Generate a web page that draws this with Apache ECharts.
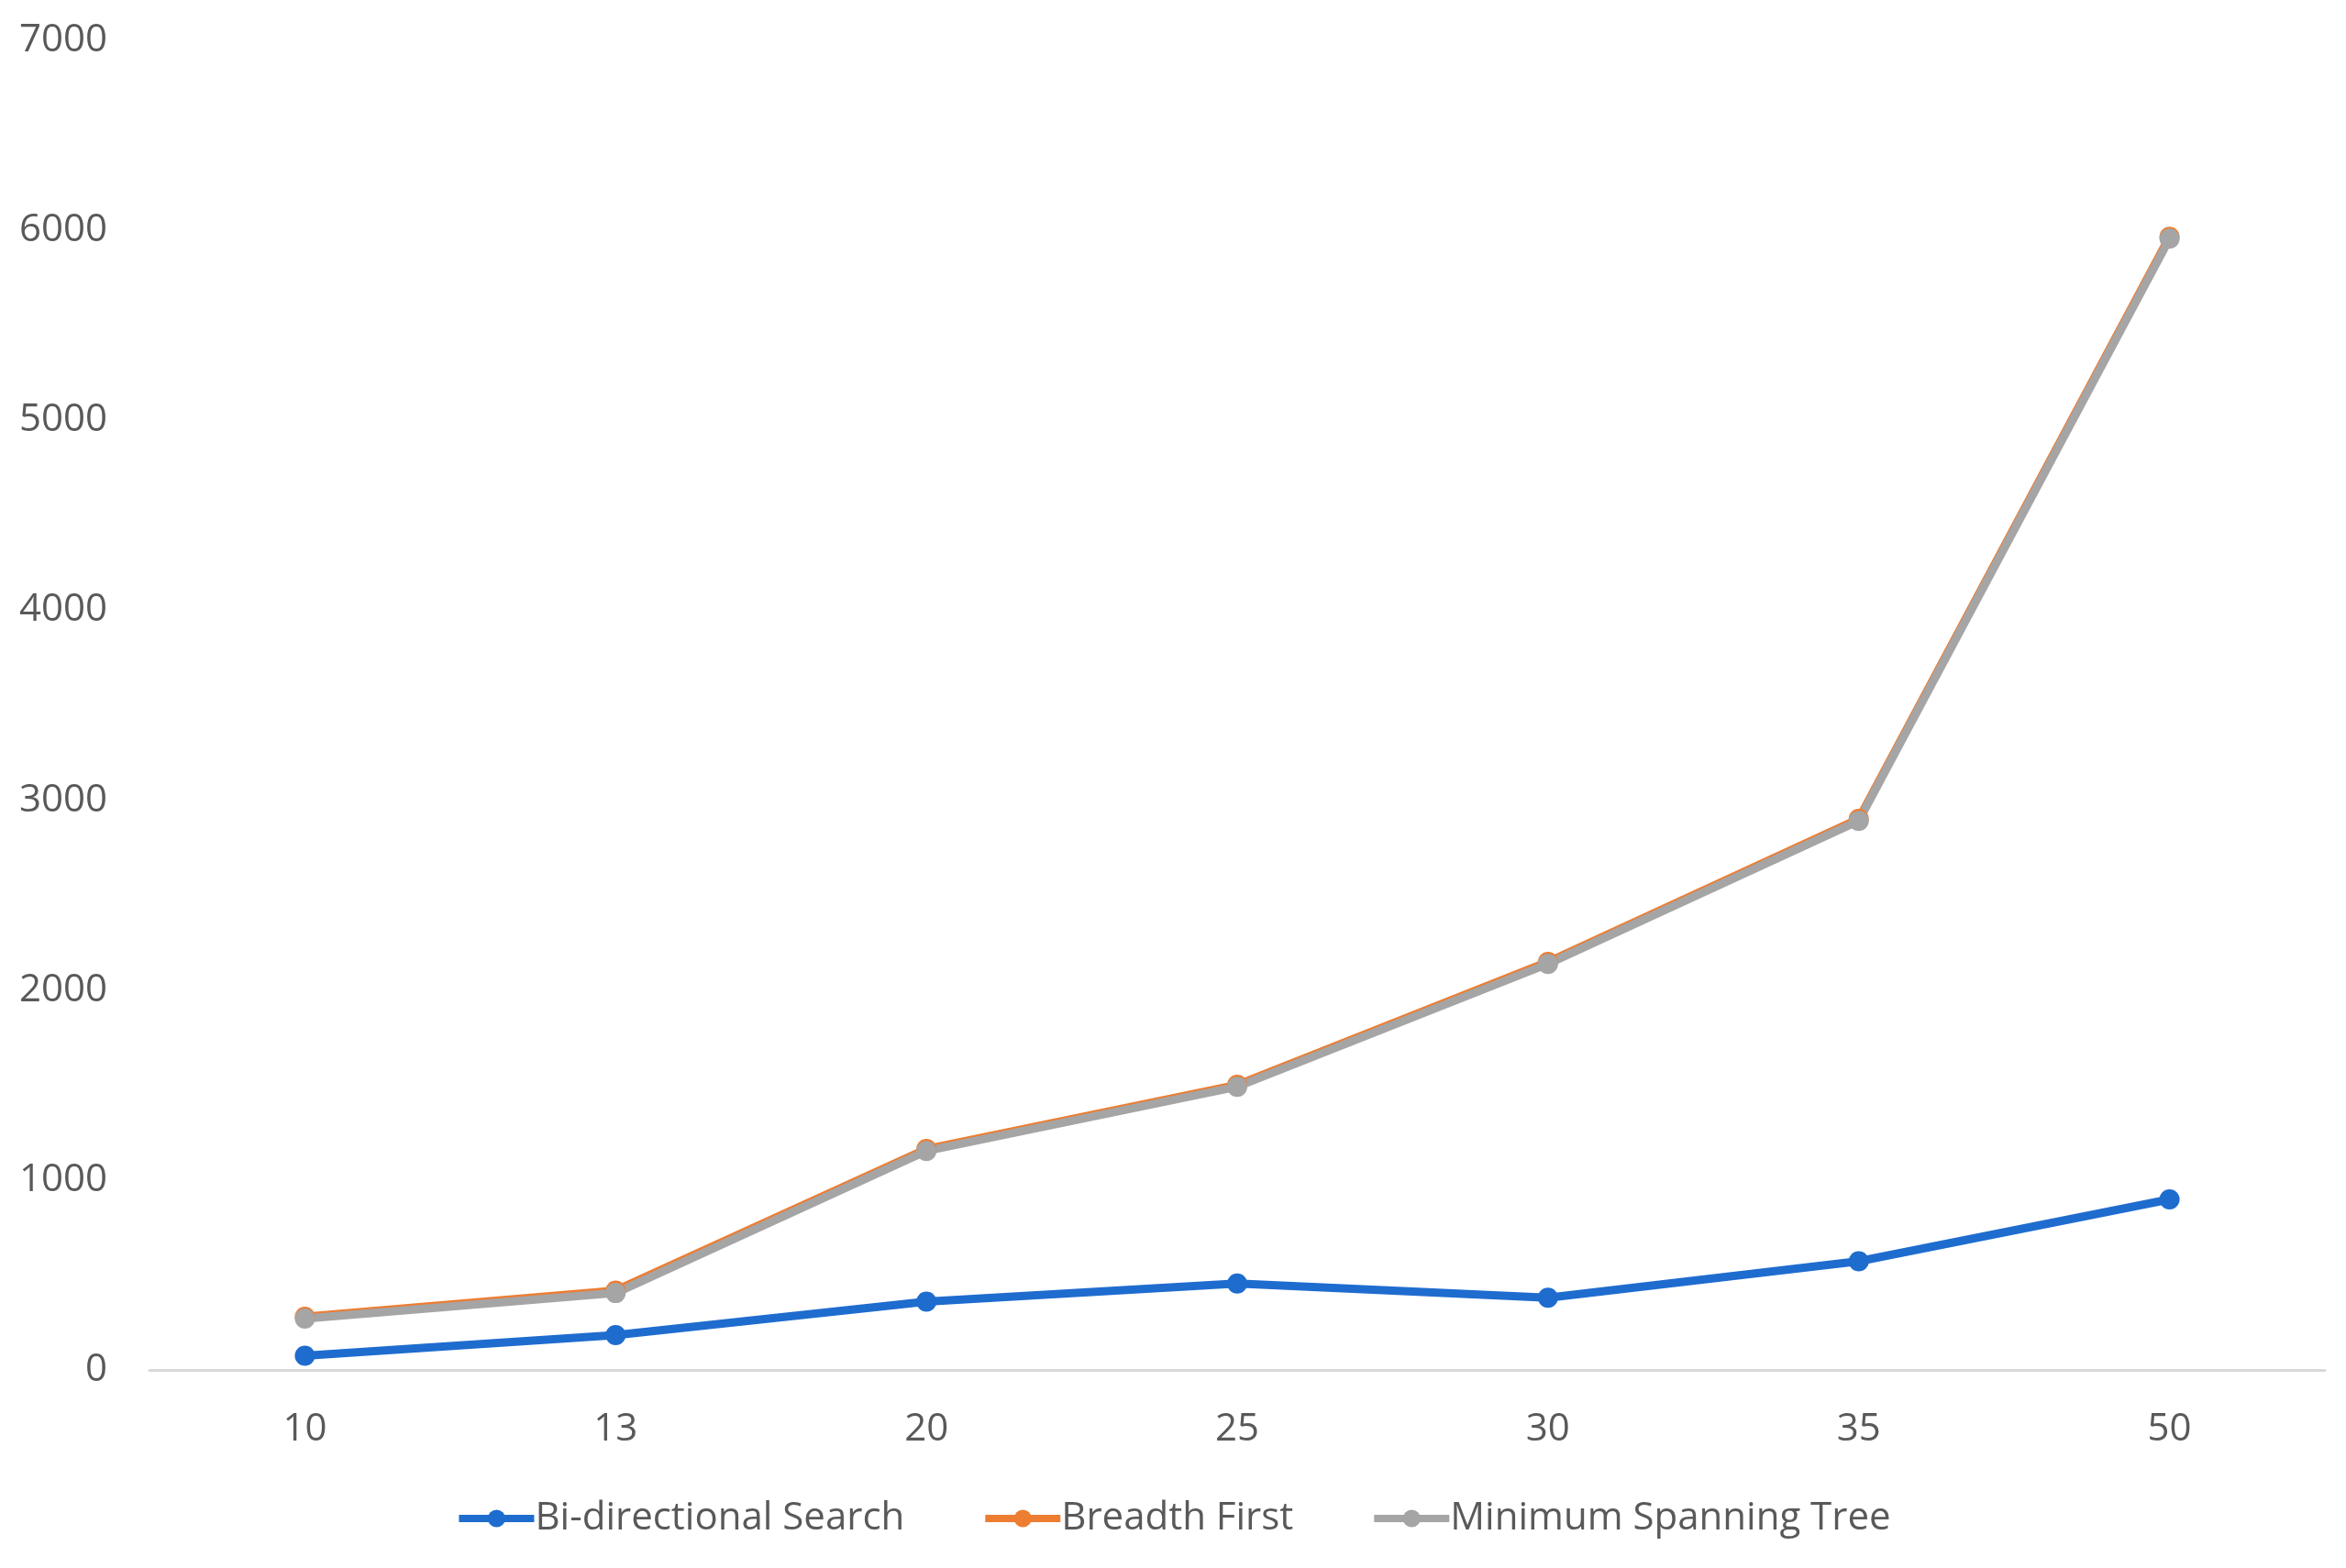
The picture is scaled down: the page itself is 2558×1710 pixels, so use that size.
<!DOCTYPE html>
<html>
<head>
<meta charset="utf-8">
<script src="https://cdn.jsdelivr.net/npm/echarts@6/dist/echarts.min.js"></script>
<style>
html,body{margin:0;padding:0;background:#fff;}
#chart{width:2558px;height:1710px;}
</style>
</head>
<body>
<div id="chart"></div>
<script>
const categories = ['10', '13', '20', '25', '30', '35', '50'];
const biDirectional = [75, 183, 360, 455, 380, 572, 898];
const breadthFirst = [280, 418, 1163, 1501, 2148, 2901, 5966];
const minSpanningTree = [270, 405, 1153, 1491, 2138, 2891, 5956];
const yTicks = { min: 0, max: 7000, interval: 1000 };

const textColor = '#595959';
const fontFamily = 'Open Sans, sans-serif';

function lineSeries(name, data, color) {
  return {
    name: name,
    type: 'line',
    data: data,
    symbol: 'circle',
    symbolSize: 22,
    lineStyle: { color: color, width: 9 },
    itemStyle: { color: color },
    emphasis: { disabled: true }
  };
}

const chart = echarts.init(document.getElementById('chart'), null, { renderer: 'canvas' });
chart.setOption({
  animation: false,
  backgroundColor: '#ffffff',
  grid: { left: 163, right: 23, top: 44, bottom: 216, containLabel: false },
  legend: {
    bottom: 28,
    left: 'center',
    itemWidth: 82,
    itemHeight: 24,
    itemGap: 84,
    lineStyle: { width: 8 },
    textStyle: { color: textColor, fontSize: 42, fontFamily: fontFamily, padding: [0, 0, 0, -4] },
    data: ['Bi-directional Search', 'Breadth First', 'Minimum Spanning Tree']
  },
  xAxis: {
    type: 'category',
    data: categories,
    boundaryGap: true,
    axisLine: { show: true, lineStyle: { color: '#D9D9D9', width: 3 } },
    axisTick: { show: false },
    axisLabel: { color: textColor, fontSize: 42, fontFamily: fontFamily, margin: 44 },
    splitLine: { show: false }
  },
  yAxis: {
    type: 'value',
    min: yTicks.min,
    max: yTicks.max,
    interval: yTicks.interval,
    axisLine: { show: false },
    axisTick: { show: false },
    axisLabel: { color: textColor, fontSize: 42, fontFamily: fontFamily, margin: 46, formatter: function (v) { return String(v); } },
    splitLine: { show: false }
  },
  series: [
    lineSeries('Bi-directional Search', biDirectional, '#1F6CCF'),
    lineSeries('Breadth First', breadthFirst, '#ED7D31'),
    lineSeries('Minimum Spanning Tree', minSpanningTree, '#A5A5A5')
  ]
});
</script>
</body>
</html>
